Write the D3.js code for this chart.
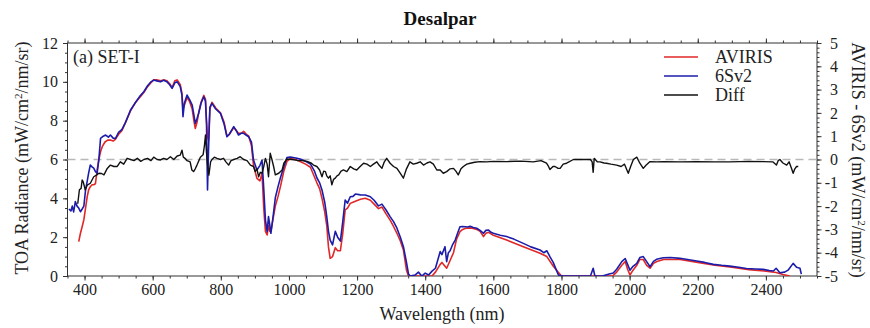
<!DOCTYPE html>
<html><head><meta charset="utf-8">
<script src="https://cdn.jsdelivr.net/npm/d3@7"></script>
<style>
body{margin:0;background:#fff;}
svg, svg text{font-family:'Liberation Serif','DejaVu Serif',serif !important;}
</style></head>
<body><svg id="c" width="870" height="328"></svg>
<script>
// ---- data ----
const xTicks = [400,600,800,1000,1200,1400,1600,1800,2000,2200,2400];
const yLeftTicks = [0,2,4,6,8,10,12];
const yRightTicks = [-5,-4,-3,-2,-1,0,1,2,3,4,5];

const sixsWl = [354,360,364,368,373,378,383,388,393,398,403,408,412,417,422,427,432,437,442,447,455,462,470,476,484,491,500,510,520,535,550,562,574,585,595,603,612,623,632,642,650,657,665,672,681,686,689,693,701,708,716,721,725,730,735,742,750,755,758,761,764,768,774,785,799,810,818,825,838,845,852,860,867,875,882,890,896,906,915,921,926,931,936,940,944,947,953,960,968,975,985,994,1004,1020,1033,1050,1063,1075,1082,1090,1097,1105,1111,1116,1121,1128,1136,1143,1151,1158,1165,1172,1180,1188,1195,1210,1224,1239,1250,1263,1273,1285,1297,1307,1317,1327,1336,1345,1351,1356,1370,1380,1390,1400,1410,1420,1430,1444,1449,1458,1463,1468,1473,1480,1488,1495,1502,1510,1517,1525,1532,1541,1551,1561,1571,1578,1586,1593,1600,1620,1639,1660,1688,1710,1737,1748,1757,1766,1776,1785,1791,1800,1850,1885,1893,1898,1920,1940,1952,1962,1977,1987,1994,2001,2010,2021,2030,2040,2050,2060,2070,2079,2099,2120,2148,2170,2197,2220,2246,2270,2294,2320,2343,2370,2392,2410,2422,2430,2441,2455,2465,2480,2490,2500,2504];
const sixsRad = [3.45,3.35,3.6,3.3,3.83,3.6,3.5,3.31,3.45,3.6,4.43,4.9,5.3,5.72,5.62,5.55,5.38,5.3,6.0,7.09,7.2,7.26,7.15,7.26,7.1,7.09,7.4,7.55,7.9,8.55,8.95,9.25,9.49,9.8,10.0,10.09,10.05,10.0,10.08,10.0,9.85,9.66,9.95,10.0,9.75,9.3,8.2,8.9,9.32,9.1,8.8,8.3,7.86,8.1,8.38,8.9,9.23,9.0,7.86,4.43,6.5,8.7,8.89,8.6,8.38,7.8,7.17,7.3,7.69,7.5,7.26,7.35,7.35,7.25,7.17,6.9,5.97,5.46,5.7,5.97,4.5,2.88,2.28,3.06,2.6,2.2,3.0,4.03,4.6,5.06,5.63,6.1,6.13,6.08,6.02,5.9,5.77,5.4,5.06,4.8,4.43,3.8,3.06,2.3,1.85,1.6,2.3,2.0,1.8,2.8,3.91,3.75,4.08,4.1,4.22,4.18,4.17,4.08,3.9,3.61,3.7,3.4,3.06,2.8,2.46,2.0,1.51,0.7,0.1,0.0,0.05,0.2,0.0,0.15,0.05,0.25,0.4,1.26,1.1,1.51,0.74,1.2,1.3,1.6,1.85,2.2,2.54,2.55,2.54,2.52,2.56,2.5,2.46,2.35,2.2,2.35,2.37,2.25,2.2,2.1,2.03,1.9,1.68,1.5,1.34,1.2,1.3,1.0,0.69,0.3,0.05,0.0,0.0,0.0,0.4,0.0,0.0,0.1,0.15,0.35,0.74,0.9,0.6,0.3,0.5,0.65,0.95,1.0,0.74,0.48,0.75,0.86,0.94,0.95,0.91,0.85,0.77,0.7,0.6,0.55,0.51,0.45,0.39,0.36,0.34,0.28,0.26,0.4,0.17,0.2,0.3,0.65,0.45,0.4,0.1];

const avirisWl = [383,388,393,398,403,408,412,417,422,427,432,437,442,447,452,460,468,476,484,491,500,510,520,535,550,562,574,585,595,603,612,623,632,642,650,657,665,672,681,686,689,693,701,708,716,721,725,730,735,742,750,755,758,761,764,768,774,785,799,810,818,825,838,845,852,860,867,875,882,890,896,906,915,921,926,931,936,940,944,947,953,960,968,975,985,994,1004,1020,1033,1050,1063,1075,1082,1090,1097,1105,1111,1116,1121,1128,1136,1143,1151,1158,1165,1172,1180,1188,1195,1210,1224,1239,1250,1263,1273,1285,1297,1307,1317,1327,1336,1345,1351,1420,1430,1444,1449,1463,1473,1483,1492,1502,1510,1517,1532,1541,1551,1561,1571,1578,1586,1600,1639,1688,1737,1757,1776,1790,1800,1950,1962,1977,1987,1994,2001,2010,2021,2030,2040,2050,2060,2070,2080,2100,2148,2200,2250,2300,2350,2400,2430,2450,2470];
const avirisRad = [1.77,2.2,2.54,2.9,3.5,4.1,4.43,4.6,4.7,4.7,4.75,5.46,6.0,6.4,6.66,6.9,7.0,7.0,6.95,7.05,7.3,7.5,7.9,8.5,8.95,9.2,9.45,9.75,9.95,10.1,10.1,10.05,10.1,10.05,9.9,9.7,10.05,10.1,9.85,9.4,8.6,8.8,9.2,9.0,8.6,8.0,7.6,7.9,8.4,8.95,9.3,9.1,8.0,7.2,7.0,8.6,8.95,8.65,8.4,7.9,7.2,7.3,7.65,7.5,7.35,7.35,7.45,7.3,7.2,6.7,5.7,5.03,4.9,5.3,3.5,2.3,2.11,2.6,2.3,2.3,2.9,3.6,4.1,4.6,5.4,5.9,6.05,6.0,5.9,5.75,5.6,5.1,4.8,4.5,4.0,3.3,2.6,1.5,0.91,1.0,1.46,1.3,1.3,2.2,3.4,3.5,3.74,3.8,3.85,3.95,4.0,3.9,3.7,3.47,3.55,3.2,2.88,2.55,2.2,1.8,1.34,0.3,0.0,0.0,0.2,0.6,0.7,0.4,0.8,1.2,1.9,2.28,2.4,2.45,2.48,2.45,2.4,2.3,2.03,2.2,2.25,2.1,1.85,1.51,1.17,1.0,0.5,0.2,0.0,0.0,0.2,0.55,0.75,0.35,0.05,0.3,0.55,0.85,0.85,0.55,0.4,0.65,0.75,0.85,0.85,0.7,0.55,0.45,0.33,0.25,0.18,0.08,0.0];

const diffWl = [380,385,390,393,396,402,408,417,427,435,442,450,457,466,476,486,496,505,515,525,535,545,555,565,574,585,595,603,613,623,632,642,652,662,672,681,686,690,695,701,710,715,720,725,730,740,748,752,755,758,761,765,770,774,781,789,799,808,815,823,830,838,848,857,867,877,887,896,901,906,911,916,921,926,931,936,940,945,950,955,960,970,980,985,994,1010,1024,1040,1053,1065,1072,1082,1090,1097,1102,1107,1111,1116,1121,1126,1131,1136,1141,1146,1153,1160,1170,1180,1190,1199,1209,1219,1229,1239,1248,1258,1265,1273,1280,1287,1297,1307,1317,1327,1336,1345,1355,1365,1375,1385,1395,1405,1414,1424,1434,1444,1453,1463,1473,1483,1490,1497,1505,1512,1522,1532,1545,1561,1580,1600,1639,1680,1717,1740,1756,1762,1766,1775,1781,1790,1796,1805,1815,1835,1860,1885,1890,1893,1896,1905,1913,1925,1932,1945,1962,1975,1985,1992,1996,2003,2011,2021,2030,2040,2048,2060,2080,2099,2150,2197,2250,2294,2350,2392,2420,2431,2436,2441,2450,2461,2468,2475,2480,2485,2490,2495];
const diffVal = [-1.9,-1.3,-1.24,-0.88,-0.95,-1.3,-1.1,-1.02,-0.74,-0.67,-0.59,-0.6,-0.66,-0.4,-0.24,-0.3,-0.3,-0.1,-0.2,0.05,0.0,-0.05,0.05,-0.08,0.0,0.05,-0.05,0.1,0.0,-0.02,0.05,0.0,0.12,0.0,0.15,0.19,0.4,0.1,0.05,-0.05,-0.1,-0.45,-0.52,-0.4,-0.24,0.1,0.2,0.6,1.05,0.3,-0.2,-0.67,-0.1,0.0,0.1,0.05,0.0,0.05,-0.1,-0.24,-0.05,0.0,0.05,0.12,0.0,-0.05,-0.24,-0.3,-0.52,-0.4,-0.74,-0.55,-0.59,-0.3,0.05,-0.2,-0.74,0.27,0.0,-0.3,-0.66,-0.59,-0.45,-0.16,0.02,0.0,-0.04,-0.05,-0.08,-0.15,-0.24,-0.3,-0.45,-0.74,-0.5,-0.52,-0.7,-0.8,-0.7,-1.09,-0.85,-0.8,-0.7,-0.66,-0.5,-0.45,-0.52,-0.3,-0.4,-0.45,-0.3,-0.16,-0.2,-0.3,-0.2,-0.1,-0.25,-0.38,-0.1,0.05,-0.16,-0.3,-0.38,-0.6,-0.8,-0.4,-0.1,-0.2,-0.16,-0.1,-0.24,-0.15,-0.1,-0.2,-0.45,-0.45,-0.59,-0.52,-0.4,-0.38,-0.5,-0.66,-0.4,-0.3,-0.2,-0.16,-0.12,-0.09,-0.1,-0.08,-0.09,-0.07,-0.1,-0.05,-0.16,-0.3,-0.43,-0.3,-0.3,-0.38,-0.38,-0.2,-0.16,0.0,0.0,0.0,-0.1,-0.55,0.05,-0.1,-0.1,-0.15,-0.16,-0.2,-0.24,-0.3,-0.2,-0.45,-0.59,-0.3,0.0,0.1,-0.16,-0.38,-0.25,-0.09,-0.1,-0.09,-0.1,-0.09,-0.1,-0.1,-0.08,-0.09,-0.1,-0.24,-0.05,0.0,-0.15,-0.24,-0.1,-0.38,-0.59,-0.4,-0.3,-0.3];

const legendLabels = ["AVIRIS","6Sv2","Diff"];
const colors = ["#e02828","#1c1caa","#111111"];

// ---- layout ----
const FONT = "'Liberation Serif','DejaVu Serif',serif";
const svg = d3.select("#c");
const L = 67.5, R = 817, T = 43, B = 276;
const x = d3.scaleLinear().domain([350,2550]).range([L,R]);
const yL = d3.scaleLinear().domain([0,12]).range([B,T]);
const yR = d3.scaleLinear().domain([-5,5]).range([B,T]);
const axisColor = "#333";

function styleAxis(g){
  g.attr("font-family",FONT);
  g.selectAll(".domain").remove();
  g.selectAll("line").attr("stroke",axisColor).attr("stroke-width",1);
  g.selectAll("text").attr("fill","#222").attr("font-size","16px").attr("font-family",FONT);
}
const minorX = d3.range(350,2551,50);
// bottom
svg.append("g").attr("transform",`translate(0,${B})`)
  .call(d3.axisBottom(x).tickValues(minorX).tickSize(2.5).tickFormat("")).call(styleAxis);
svg.append("g").attr("transform",`translate(0,${B})`)
  .call(d3.axisBottom(x).tickValues(xTicks).tickSize(4.5).tickPadding(3).tickFormat(d3.format("d"))).call(styleAxis);
// top
svg.append("g").attr("transform",`translate(0,${T})`)
  .call(d3.axisTop(x).tickValues(minorX).tickSize(2.5).tickFormat("")).call(styleAxis);
svg.append("g").attr("transform",`translate(0,${T})`)
  .call(d3.axisTop(x).tickValues(xTicks).tickSize(4.5).tickFormat("")).call(styleAxis);
// left
svg.append("g").attr("transform",`translate(${L},0)`)
  .call(d3.axisLeft(yL).tickValues(d3.range(0,12.01,0.5)).tickSize(2.5).tickFormat("")).call(styleAxis);
svg.append("g").attr("transform",`translate(${L},0)`)
  .call(d3.axisLeft(yL).tickValues(yLeftTicks).tickSize(4.5).tickPadding(5)).call(styleAxis);
// right
svg.append("g").attr("transform",`translate(${R},0)`)
  .call(d3.axisRight(yR).tickValues(d3.range(-5,5.01,0.2)).tickSize(2.5).tickFormat("")).call(styleAxis);
const rg = svg.append("g").attr("transform",`translate(${R},0)`)
  .call(d3.axisRight(yR).tickValues(yRightTicks).tickSize(4.5).tickPadding(5).tickFormat(d=>d<0?"-"+Math.abs(d):String(d))).call(styleAxis);
rg.selectAll("text").attr("text-anchor","end").attr("x",21);

// frame
svg.append("rect").attr("x",L).attr("y",T).attr("width",R-L).attr("height",B-T)
  .attr("fill","none").attr("stroke",axisColor).attr("stroke-width",1);

// zero line (dashed)
svg.append("line").attr("x1",L).attr("x2",R+4).attr("y1",yR(0)).attr("y2",yR(0))
  .attr("stroke","#b8b8b8").attr("stroke-width",1.3).attr("stroke-dasharray","8,5");

svg.append("defs").append("clipPath").attr("id","pc")
  .append("rect").attr("x",L).attr("y",T-5).attr("width",R-L).attr("height",B-T+5);
const plot = svg.append("g").attr("clip-path","url(#pc)");

const lineL = d3.line().x(d=>x(d[0])).y(d=>yL(d[1]));
const lineR = d3.line().x(d=>x(d[0])).y(d=>yR(d[1]));
plot.append("path").datum(d3.zip(avirisWl,avirisRad)).attr("d",lineL)
  .attr("fill","none").attr("stroke",colors[0]).attr("stroke-width",1.6).attr("stroke-linejoin","round");
plot.append("path").datum(d3.zip(sixsWl,sixsRad)).attr("d",lineL)
  .attr("fill","none").attr("stroke",colors[1]).attr("stroke-width",1.6).attr("stroke-linejoin","round");
plot.append("path").datum(d3.zip(diffWl,diffVal)).attr("d",lineR)
  .attr("fill","none").attr("stroke",colors[2]).attr("stroke-width",1.4).attr("stroke-linejoin","round");

// legend
const lg = svg.append("g").attr("font-family",FONT);
legendLabels.forEach((t,i)=>{
  const yy = 57 + i*19;
  lg.append("line").attr("x1",664).attr("x2",698).attr("y1",yy).attr("y2",yy)
    .attr("stroke",colors[i]).attr("stroke-width",1.6);
  lg.append("text").attr("x",715).attr("y",yy+6).attr("font-size","18px")
    .attr("font-family",FONT).attr("fill","#222").text(t);
});

// texts
function txt(){ return svg.append("text").attr("font-family",FONT).attr("fill","#222"); }
txt().attr("x",73).attr("y",63).attr("font-size","18px").text("(a) SET-I");
txt().attr("x",440).attr("y",25).attr("text-anchor","middle").attr("font-size","19px")
  .attr("font-weight","bold").attr("fill","#111").text("Desalpar");
txt().attr("x",442).attr("y",320).attr("text-anchor","middle").attr("font-size","18px")
  .text("Wavelength (nm)");

function unitTitle(sel, prefix){
  sel.append("tspan").text(prefix+" (mW/cm");
  sel.append("tspan").attr("dy",-6).attr("font-size","11px").text("2");
  sel.append("tspan").attr("dy",6).text("/nm/sr)");
}
const lt = txt().attr("transform",`translate(28,158) rotate(-90)`)
  .attr("text-anchor","middle").attr("font-size","18px");
unitTitle(lt,"TOA Radiance");
const rt = txt().attr("transform",`translate(852,160) rotate(90)`)
  .attr("text-anchor","middle").attr("font-size","18px");
unitTitle(rt,"AVIRIS - 6Sv2");
</script></body></html>
